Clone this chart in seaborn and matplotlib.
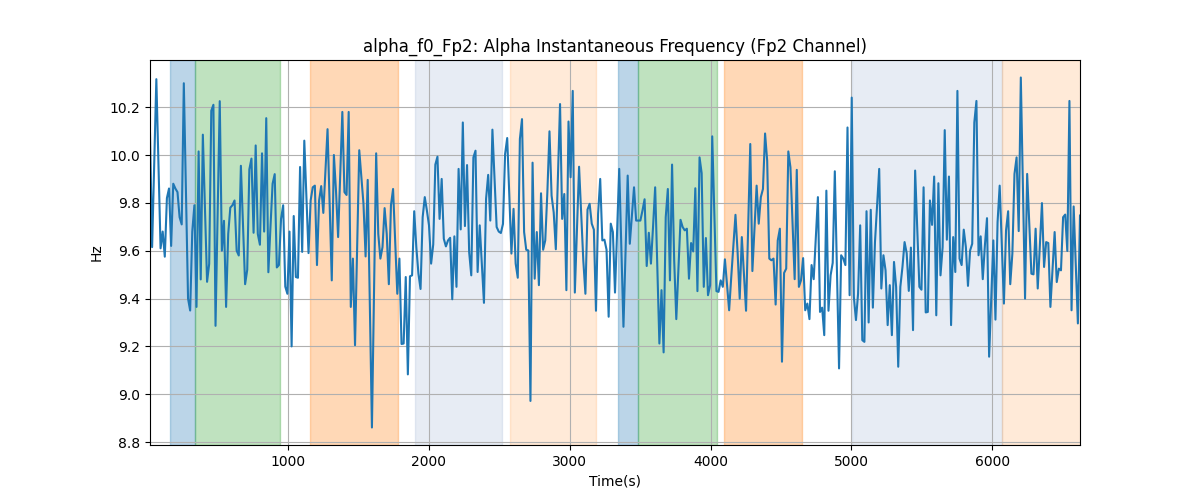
import numpy as np
import pandas as pd
import matplotlib
matplotlib.use("Agg")
import matplotlib.pyplot as plt
import seaborn as sns

# alpha instantaneous frequency (Hz), one sample every 15 s starting at t=22 s
alpha_hz = [
    10.09, 9.615, 9.97, 10.317, 9.96, 9.61, 9.68, 9.575, 9.82, 9.86,
    9.62, 9.88, 9.86, 9.845, 9.74, 9.71, 10.30, 9.85, 9.40, 9.35,
    9.68, 9.79, 9.365, 10.015, 9.48, 10.085, 9.78, 9.47, 9.545, 10.185,
    10.21, 9.286, 9.75, 10.225, 9.60, 9.725, 9.365, 9.67, 9.78, 9.79,
    9.81, 9.60, 9.58, 9.955, 9.71, 9.46, 9.52, 9.94, 9.985, 9.675,
    10.04, 9.67, 9.625, 10.007, 9.68, 10.154, 9.51, 9.70, 9.88, 9.92,
    9.53, 9.54, 9.733, 9.79,
    9.45, 9.42, 9.68, 9.20, 9.745, 9.49, 9.487, 9.95, 9.595, 10.06,
    9.83, 9.59, 9.81, 9.865, 9.872, 9.54, 9.81, 9.87, 9.758, 9.93,
    10.108, 9.80, 9.476, 10.0, 9.85, 9.657, 9.92, 10.18, 9.845, 9.833,
    10.18, 9.365, 9.567, 9.205, 9.61, 10.02, 9.91, 9.796, 9.576, 9.896,
    9.38, 8.861, 9.43, 10.007, 9.67, 9.567, 9.615, 9.778, 9.67, 9.46,
    9.79, 9.858, 9.64, 9.42, 9.567, 9.21, 9.212, 9.49, 9.083, 9.493,
    9.497, 9.765,
    9.615, 9.504, 9.44, 9.74, 9.824, 9.768, 9.706, 9.546, 9.626, 9.96,
    9.993, 9.733, 9.90, 9.65, 9.618, 9.643, 9.654, 9.397, 9.66, 9.449,
    9.942, 9.689, 10.136, 9.703, 9.958, 9.594, 9.497, 9.99, 10.018, 9.511,
    9.706, 9.54, 9.382, 9.817, 9.917, 9.726, 10.106, 9.90, 9.699, 9.68,
    9.674, 9.712, 10.004, 10.071, 9.83, 9.588, 9.775, 9.546, 9.487, 10.067,
    10.15, 9.678, 9.604, 9.601, 8.972, 9.968, 9.483, 9.678, 9.456, 9.84,
    9.604, 9.643, 9.844, 10.099,
    9.83, 9.76, 9.606, 9.91, 10.213, 9.733, 9.837, 9.435, 10.14, 9.907,
    10.268, 9.425, 9.69, 9.951, 9.76, 9.56, 9.42, 9.772, 9.796, 9.713,
    9.688, 9.349, 9.754, 9.90, 9.643, 9.646, 9.604, 9.324, 9.713, 9.678,
    9.425, 9.68, 9.942, 9.61, 9.282, 9.60, 9.914, 9.629, 9.75, 9.865,
    9.726, 9.726, 9.726, 9.768, 9.815, 9.536, 9.675, 9.546, 9.70, 9.865,
    9.54, 9.212, 9.435, 9.175, 9.74, 9.858, 9.476, 9.96, 9.56, 9.314,
    9.525, 9.729, 9.699,
    9.685, 9.692, 9.483, 9.632, 9.597, 9.861, 9.431, 9.99, 9.924, 9.449,
    9.653, 9.414, 9.456, 10.078, 9.75, 9.431, 9.428, 9.476, 9.449, 9.564,
    9.46, 9.351, 9.49, 9.621, 9.75, 9.594, 9.40, 9.657, 9.50, 9.349,
    9.70, 10.046, 9.515, 9.69, 9.872, 9.713, 9.824, 9.858, 10.09, 9.976,
    9.567, 9.56, 9.567, 9.375, 9.643, 9.692, 9.136, 9.507, 9.525, 10.015,
    9.949, 9.71, 9.481, 9.938, 9.449, 9.476, 9.569, 9.351, 9.379, 9.314,
    9.54, 9.481, 9.65,
    9.824, 9.344, 9.362, 9.247, 9.851, 9.349, 9.497, 9.549, 9.932, 9.52,
    9.108, 9.581, 9.567, 9.54, 10.115, 9.414, 10.24, 9.407, 9.31, 9.42,
    9.706, 9.226, 9.219, 9.765, 9.30, 9.771, 9.362, 9.636, 9.79, 9.942,
    9.442, 9.581, 9.518, 9.289, 9.456, 9.247, 9.553, 9.449, 9.115, 9.449,
    9.532, 9.636, 9.59, 9.432, 9.613, 9.268, 9.935, 9.69, 9.449, 9.437,
    9.865, 9.342, 9.344, 9.81, 9.708, 9.91, 9.33, 9.882, 9.497, 9.615,
    10.104, 9.646, 9.91,
    9.289, 9.657, 9.511, 10.268, 9.567, 9.54, 9.688, 9.615, 9.453, 9.601,
    9.629, 10.136, 10.226, 9.581, 9.66, 9.481, 9.622, 9.736, 9.157, 9.40,
    9.643, 9.312, 9.72, 9.872, 9.62, 9.379, 9.685, 9.765, 9.46, 9.588,
    9.921, 9.99, 9.682, 10.324, 9.86, 9.40, 9.921, 9.71, 9.504, 9.501,
    9.692, 9.442, 9.62, 9.799, 9.532, 9.636, 9.632, 9.365, 9.52, 9.678,
    9.469, 9.525, 9.518, 9.74, 9.751, 9.599, 10.226, 9.351, 9.785, 9.54,
    9.296, 9.747,
]
t_start = 22
t_step = 15

# shaded task periods (start s, end s, colour, alpha)
span_start = [161, 339, 1161, 1903, 2576, 3343, 3488, 4097, 5004, 6067]
span_end = [339, 943, 1785, 2519, 3185, 3488, 4045, 4649, 6067, 6630]
span_color = ["tab:blue", "tab:green", "tab:orange", "#4c72b0", "tab:orange",
              "tab:blue", "tab:green", "tab:orange", "#4c72b0", "tab:orange"]
span_alpha = [0.3, 0.3, 0.3, 0.13, 0.16, 0.3, 0.3, 0.3, 0.13, 0.16]

df = pd.DataFrame({"time": t_start + t_step * np.arange(len(alpha_hz)),
                   "hz": alpha_hz})

fig, ax = plt.subplots(figsize=(12, 5), dpi=100)
for s, e, c, a in zip(span_start, span_end, span_color, span_alpha):
    ax.axvspan(s, e, color=c, alpha=a)

sns.lineplot(data=df, x="time", y="hz", ax=ax, color="tab:blue", linewidth=1.5)
ax.set_xlim(df.time.min(), df.time.max())
ax.grid(True)
ax.set_title("alpha_f0_Fp2: Alpha Instantaneous Frequency (Fp2 Channel)")
ax.set_xlabel("Time(s)")
ax.set_ylabel("Hz")
plt.savefig("out.png")
